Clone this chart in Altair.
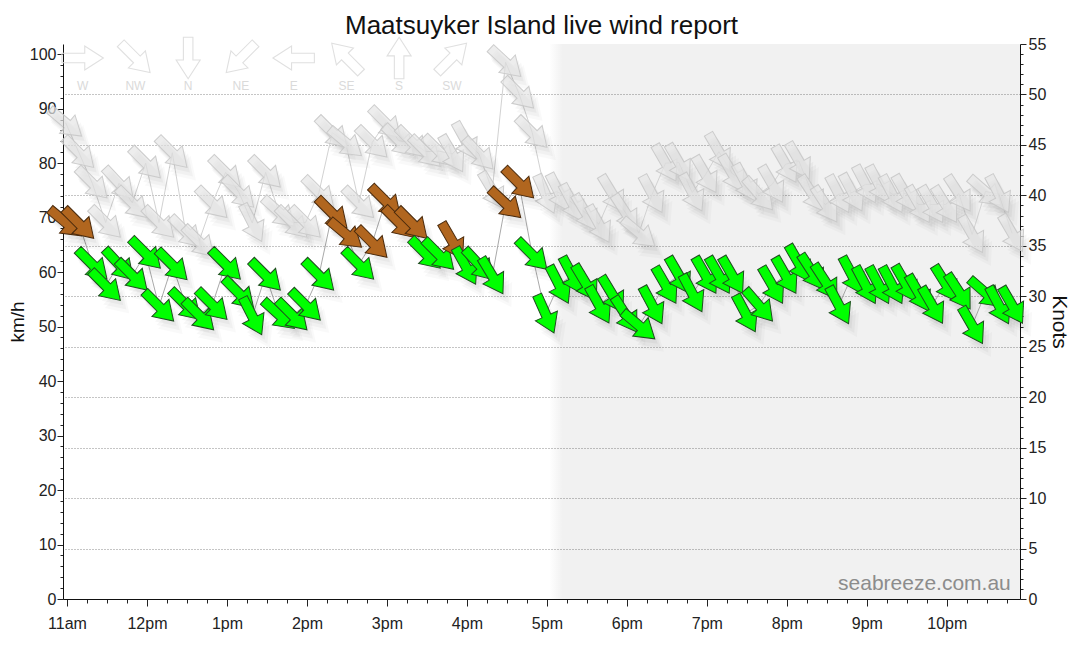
import altair as alt
import pandas as pd

# ---------------- data ----------------
times = ["10:59", "11:09", "11:19", "11:29", "11:39", "11:49", "11:59", "12:09", "12:19", "12:29",
         "12:39", "12:49", "12:59", "13:09", "13:19", "13:29", "13:39", "13:49", "13:59", "14:09",
         "14:19", "14:29", "14:39", "14:49", "14:59", "15:09", "15:19", "15:29", "15:39", "15:49",
         "15:59", "16:09", "16:19", "16:29", "16:39", "16:49", "16:59", "17:09", "17:19", "17:29",
         "17:39", "17:49", "17:59", "18:09", "18:19", "18:29", "18:39", "18:49", "18:59", "19:09",
         "19:19", "19:29", "19:39", "19:49", "19:59", "20:09", "20:19", "20:29", "20:39", "20:49",
         "20:59", "21:09", "21:19", "21:29", "21:39", "21:49", "21:59", "22:09", "22:19", "22:29",
         "22:39", "22:49"]

speed_kmh = [69.1, 68.9, 61.4, 57.5, 61.4, 59.4, 63.4, 53.7, 61.3, 54.0,
             52.1, 54.0, 61.4, 56.1, 51.9, 59.4, 52.2, 52.1, 53.9, 59.4,
             70.8, 67.0, 61.4, 65.4, 73.0, 69.1, 68.9, 63.4, 63.2, 65.7,
             61.1, 61.4, 59.3, 72.6, 76.3, 63.2, 52.3, 57.7, 59.4, 58.0,
             54.0, 55.9, 52.2, 50.2, 53.9, 57.6, 59.4, 56.1, 59.4, 59.4,
             59.4, 52.4, 53.9, 57.6, 59.4, 61.6, 60.0, 58.2, 53.9, 59.4,
             57.6, 57.6, 57.6, 57.9, 56.1, 53.9, 57.9, 56.4, 50.2, 56.2,
             53.9, 53.9]

gust_kmh = [87.4, 81.9, 76.3, 69.1, 76.3, 72.7, 80.0, 69.1, 81.9, 67.4,
            65.6, 72.7, 78.3, 74.6, 69.0, 78.3, 71.0, 69.1, 69.1, 74.6,
            85.6, 83.8, 72.7, 83.8, 87.4, 84.1, 83.8, 82.1, 82.2, 81.7,
            84.1, 81.7, 75.0, 98.5, 92.8, 85.6, 74.3, 74.6, 72.7, 70.9,
            68.8, 74.4, 70.9, 67.2, 74.3, 80.0, 80.1, 74.6, 77.9, 82.1,
            78.1, 76.4, 74.3, 76.1, 79.8, 80.4, 74.4, 72.4, 74.3, 74.6,
            76.1, 76.1, 74.3, 74.4, 72.4, 72.4, 72.4, 74.4, 66.9, 74.8,
            74.3, 67.1]

direction_deg = [310, 315, 315, 315, 317, 315, 315, 315, 315, 315,
                 315, 315, 315, 315, 333, 315, 312, 315, 315, 315,
                 315, 310, 315, 315, 315, 315, 315, 315, 315, 330,
                 331, 317, 329, 313, 315, 315, 336, 333, 332, 329,
                 331, 329, 327, 310, 332, 330, 330, 332, 330, 330,
                 330, 332, 319, 330, 330, 330, 327, 327, 332, 332,
                 332, 332, 332, 330, 330, 330, 328, 327, 330, 311,
                 332, 330]

night_start = "17:07"
compass_labels = ["W", "NW", "N", "NE", "E", "SE", "S", "SW"]
compass_bearings = [270, 315, 0, 45, 90, 135, 180, 225]

# ---------------- helpers ----------------
def to_hours(s):
    h, m = s.split(":")
    return int(h) + int(m) / 60.0

KMH_PER_KNOT = 1.852
KNOT_MAX = 55
YMAX = KNOT_MAX * KMH_PER_KNOT
X0, X1 = 10.95, 22.915
W, H = 957, 555
FONT = "Liberation Sans"
GREEN, BROWN = "#00ff00", "#b1661f"
STRONG = 35 * KMH_PER_KNOT  # 35 knots

ARROW = "M-0.23,-1L0.23,-1L0.23,0.1L0.58,0.1L0,1L-0.58,0.1L-0.23,0.1Z"
ASIZE = 1720

df = pd.DataFrame({"t": [to_hours(s) for s in times], "spd": speed_kmh,
                   "gust": gust_kmh, "dir": direction_deg})

n0 = to_hours(night_start)
legend_df = pd.DataFrame({
    "label": compass_labels,
    "dir": compass_bearings,
    "t": [11.196 + i * 0.6594 for i in range(len(compass_labels))],
})

x_axis = alt.Axis(
    values=[11 + q * 0.25 for q in range(48)],
    labelExpr="datum.value % 1 === 0 ? (datum.value == 12 ? '12pm' : (datum.value < 12 ? datum.value + 'am' : (datum.value - 12) + 'pm')) : ''",
    tickSize={"condition": {"test": "datum.value % 1 === 0", "value": 7}, "value": 4},
    labelOverlap=False, grid=False, title=None, labelPadding=9,
)
xs = alt.Scale(domain=[X0, X1], nice=False, zero=False)
X = lambda f: alt.X(f, type="quantitative", scale=xs, axis=x_axis)

y_axis = alt.Axis(
    values=list(range(0, 101, 2)), orient="left",
    labelExpr="datum.value % 10 === 0 ? datum.label : ''",
    tickSize={"condition": {"test": "datum.value % 10 === 0", "value": 6}, "value": 3},
    labelOverlap=False, grid=False, title="km/h", titlePadding=2, labelPadding=1,
    titleFontSize=19,
)
ys = alt.Scale(domain=[0, YMAX], nice=False, zero=True)
Y = lambda f: alt.Y(f, type="quantitative", scale=ys, axis=y_axis)

base = alt.Chart(df)

# night shading (translucent so the grid stays visible)
shade_data = pd.DataFrame({"a": [n0 - 0.09], "b": [n0 + 0.08], "c": [n0 + 0.08], "d": [X1]})
fade = alt.Chart(shade_data).mark_rect(
    fill=alt.Gradient(gradient="linear",
                      stops=[alt.GradientStop(color="rgba(0,0,0,0)", offset=0),
                             alt.GradientStop(color="rgba(0,0,0,0.055)", offset=1)],
                      x1=0, x2=1, y1=0, y2=0)
).encode(x=X("a"), x2="b", y=alt.Y(datum=0, scale=ys, axis=y_axis), y2=alt.Y2(datum=YMAX))
night = alt.Chart(shade_data).mark_rect(fill="black", opacity=0.055).encode(
    x=X("c"), x2="d", y=alt.Y(datum=0, scale=ys, axis=y_axis), y2=alt.Y2(datum=YMAX))

gust_line = base.mark_line(color="#d2d2d2", strokeWidth=1).encode(x=X("t"), y=Y("gust"))
spd_line = base.mark_line(color="#a9a9a9", strokeWidth=1).encode(x=X("t"), y=Y("spd"))

ANG = alt.Angle("dir:Q", scale=None)

def shadows(field):
    out = []
    for dx, dy, s, op in [(3, 5, 1.0, 0.035), (5, 8, 1.15, 0.03), (7, 11, 1.3, 0.025)]:
        out.append(base.mark_point(shape=ARROW, size=ASIZE * s, filled=True, fill="black",
                                   strokeWidth=0, opacity=op, xOffset=dx, yOffset=dy)
                   .encode(x=X("t"), y=Y(field), angle=ANG))
    return out

gust_arrows = base.mark_point(shape=ARROW, size=ASIZE, filled=True, fill="#e6e6e6",
                              fillOpacity=0.7, stroke="#c8c8c8", strokeWidth=1,
                              strokeOpacity=0.9, opacity=1).encode(
    x=X("t"), y=Y("gust"), angle=ANG)

spd_arrows = base.mark_point(shape=ARROW, size=ASIZE, filled=True, strokeWidth=1,
                             opacity=1, fillOpacity=1).encode(
    x=X("t"), y=Y("spd"), angle=ANG,
    fill=alt.condition(alt.datum.spd >= STRONG, alt.value(BROWN), alt.value(GREEN)),
    stroke=alt.condition(alt.datum.spd >= STRONG, alt.value("#4a2a0c"), alt.value("#1f4d1f")),
)

leg = alt.Chart(legend_df)
leg_arrows = leg.mark_point(shape=ARROW, size=ASIZE, filled=False, stroke="#e0e0e0",
                            strokeWidth=1.1, opacity=1).encode(
    x=X("t"), y=alt.Y(datum=99.3, scale=ys, axis=y_axis), angle=ANG)
leg_text = leg.mark_text(font=FONT, fontSize=12, color="#dadada", baseline="middle").encode(
    x=X("t"), y=alt.Y(datum=94.1, scale=ys, axis=y_axis), text="label:N")

mark_txt = alt.Chart(pd.DataFrame({"s": ["seabreeze.com.au"]})).mark_text(
    font=FONT, fontSize=21, color="#8c8c8c", align="right", baseline="alphabetic"
).encode(x=alt.X(datum=22.8, scale=xs, axis=x_axis),
         y=alt.Y(datum=1.7, scale=ys, axis=y_axis), text="s:N")

kmh = alt.layer(fade, night, gust_line, spd_line, *shadows("gust"), gust_arrows,
                *shadows("spd"), spd_arrows, leg_arrows, leg_text, mark_txt)

knots_axis = alt.Axis(
    values=list(range(0, 56)), orient="right",
    labelExpr="datum.value % 5 === 0 ? datum.label : ''",
    tickSize={"condition": {"test": "datum.value % 5 === 0", "value": 6}, "value": 3},
    labelOverlap=False, grid=True, gridDash=[1, 2], gridColor="#8a8a8a",
    gridOpacity={"condition": {"test": "datum.value % 5 === 0 && datum.value > 0 && datum.value < 55", "value": 1}, "value": 0},
    title="Knots", titlePadding=3, titleFontSize=21, labelPadding=2,
)
knots = alt.Chart(pd.DataFrame({"k": [0, KNOT_MAX]})).mark_point(opacity=0).encode(
    y=alt.Y("k:Q", scale=alt.Scale(domain=[0, KNOT_MAX], nice=False), axis=knots_axis))

chart = alt.layer(kmh, knots).resolve_scale(y="independent").properties(
    width=W, height=H,
    title=alt.TitleParams("Maatsuyker Island live wind report", font=FONT, fontSize=26,
                          fontWeight="normal", color="#111", offset=-4),
    padding={"left": 0, "top": 5, "right": 1, "bottom": 2},
).configure_view(stroke=None).configure_axis(
    labelFont=FONT, titleFont=FONT, labelFontSize=16, labelColor="#222",
    tickColor="#222", domainColor="#111", titleFontWeight="normal",
    titleColor="#111", titleFontSize=20,
)

chart.save("out.html", embed_options={"renderer": "svg", "actions": False})
